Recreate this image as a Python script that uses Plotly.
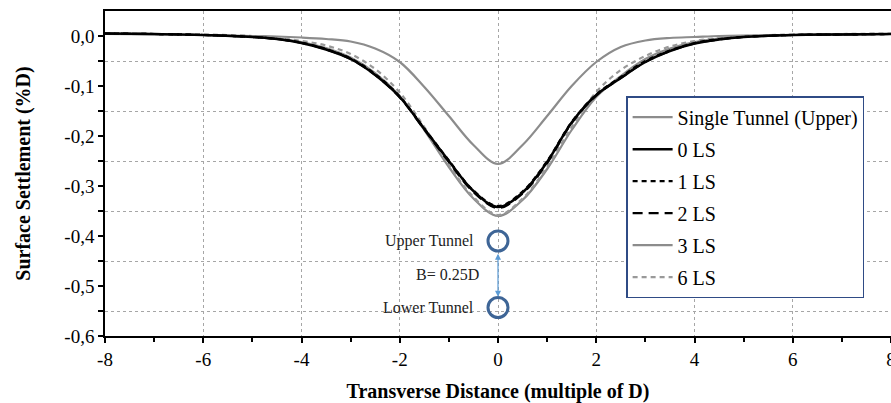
import plotly.graph_objects as go

# ---- data ----
x_pos = [-8, -7, -6, -5, -4.5, -4, -3.5, -3, -2.5, -2, -1.5, -1, -0.5, 0,
         0.5, 1, 1.5, 2, 2.5, 3, 3.5, 4, 4.5, 5, 6, 7, 8]

single_upper = [0.004, 0.003, 0.002, 0.000, -0.001, -0.003, -0.006, -0.011, -0.025, -0.052, -0.102, -0.160, -0.218, -0.256,
                -0.218, -0.160, -0.100, -0.052, -0.022, -0.009, -0.004, -0.002, 0.000, 0.001, 0.002, 0.003, 0.004]
ls0 = [0.005, 0.004, 0.002, -0.002, -0.006, -0.014, -0.027, -0.046, -0.078, -0.122, -0.186, -0.250, -0.310, -0.342,
       -0.313, -0.252, -0.173, -0.118, -0.084, -0.052, -0.030, -0.015, -0.007, -0.002, 0.002, 0.003, 0.004]
ls1 = [0.005, 0.004, 0.002, -0.002, -0.006, -0.013, -0.026, -0.045, -0.076, -0.121, -0.185, -0.249, -0.309, -0.340,
       -0.311, -0.250, -0.172, -0.117, -0.082, -0.050, -0.029, -0.014, -0.006, -0.002, 0.002, 0.003, 0.004]
ls2 = [0.005, 0.004, 0.002, -0.002, -0.006, -0.014, -0.027, -0.046, -0.078, -0.123, -0.187, -0.252, -0.312, -0.344,
       -0.315, -0.254, -0.174, -0.119, -0.084, -0.052, -0.030, -0.015, -0.007, -0.002, 0.002, 0.003, 0.004]
ls3 = [0.005, 0.004, 0.002, -0.002, -0.005, -0.012, -0.024, -0.043, -0.074, -0.120, -0.188, -0.262, -0.325, -0.360,
       -0.328, -0.266, -0.188, -0.122, -0.080, -0.046, -0.025, -0.012, -0.005, -0.001, 0.002, 0.003, 0.004]
ls6 = [0.005, 0.004, 0.003, 0.000, -0.004, -0.010, -0.019, -0.036, -0.066, -0.113, -0.182, -0.258, -0.322, -0.358,
       -0.325, -0.262, -0.182, -0.112, -0.068, -0.040, -0.021, -0.010, -0.004, 0.000, 0.003, 0.004, 0.005]

series_names = ["Single Tunnel (Upper)", "0 LS", "1 LS", "2 LS", "3 LS", "6 LS"]

tunnel_x = [0, 0]
tunnel_y = [-0.410, -0.543]
tunnel_labels = ["Upper Tunnel", "Lower Tunnel"]
spacing_label = "B= 0.25D"

x_tickvals = [-8, -6, -4, -2, 0, 2, 4, 6, 8]
x_ticktext = ["-8", "-6", "-4", "-2", "0", "2", "4", "6", "8"]
y_tickvals = [0.0, -0.1, -0.2, -0.3, -0.4, -0.5, -0.6]
y_ticktext = ["0,0", "-0,1", "-0,2", "-0,3", "-0,4", "-0,5", "-0,6"]
y_minorvals = [-0.05, -0.15, -0.25, -0.35, -0.45, -0.55]

FONT = "Liberation Serif"
GRAY = "#8c8c8c"
BLUE = "#3e6596"
TICKFONT = dict(family=FONT, size=19, color="#000000")

fig = go.Figure()

styles = {
    "Single Tunnel (Upper)": dict(color=GRAY, width=2.2, dash="solid"),
    "0 LS": dict(color="#000000", width=2.5, dash="solid"),
    "1 LS": dict(color="#000000", width=2.2, dash="5px,4px"),
    "2 LS": dict(color="#000000", width=2.2, dash="10px,6px"),
    "3 LS": dict(color=GRAY, width=2.2, dash="solid"),
    "6 LS": dict(color="#999999", width=2.2, dash="5px,4px"),
}
data_map = {"Single Tunnel (Upper)": single_upper, "0 LS": ls0, "1 LS": ls1,
            "2 LS": ls2, "3 LS": ls3, "6 LS": ls6}
draw_order = ["Single Tunnel (Upper)", "3 LS", "6 LS", "0 LS", "1 LS", "2 LS"]

for name in draw_order:
    fig.add_trace(go.Scatter(
        x=x_pos, y=data_map[name], name=name, mode="lines",
        line=dict(shape="spline", smoothing=1.0, **styles[name]),
        legendrank=series_names.index(name) + 1,
        legendgroup=name,
    ))

fig.add_trace(go.Scatter(
    x=tunnel_x, y=tunnel_y, mode="markers", showlegend=False,
    marker=dict(symbol="circle-open", size=20, color=BLUE, line=dict(width=3, color=BLUE)),
))

for lab, yy in zip(tunnel_labels, tunnel_y):
    fig.add_annotation(x=-0.45, y=yy, text=lab, showarrow=False, xanchor="right",
                       yanchor="middle", font=dict(family=FONT, size=16, color="#222222"))
fig.add_annotation(x=-0.35, y=-0.476, text=spacing_label, showarrow=False, xanchor="right",
                   yanchor="middle", font=dict(family=FONT, size=16, color="#222222"))
fig.add_annotation(x=0, y=-0.5215, ax=0, ay=-0.4325, xref="x", yref="y", axref="x", ayref="y",
                   text="", showarrow=True, arrowhead=2, arrowside="end+start",
                   arrowsize=1, arrowwidth=1.2, arrowcolor="#5b9bd5")

fig.update_layout(
    width=891, height=403,
    margin=dict(l=105, r=0, t=11, b=67),
    paper_bgcolor="white", plot_bgcolor="white",
    font=dict(family=FONT, size=19, color="#000000"),
    showlegend=True,
    legend=dict(
        x=0.663, y=0.738, xanchor="left", yanchor="top",
        bgcolor="white", bordercolor="#2f4b85", borderwidth=1.5,
        font=dict(family=FONT, size=20, color="#000000"),
        traceorder="grouped", tracegroupgap=3, itemwidth=40,
    ),
    xaxis=dict(
        range=[-8, 8], tickvals=x_tickvals, ticktext=x_ticktext, tickfont=TICKFONT,
        ticklabeloverflow="allow",
        showline=True, linecolor="#000000", linewidth=1.5, mirror=True,
        ticks="outside", ticklen=5, tickwidth=1.5, tickcolor="#000000",
        showgrid=True, gridcolor="#a6a6a6", griddash="dot", gridwidth=1,
        zeroline=False,
        minor=dict(dtick=1, ticks="outside", ticklen=4, tickwidth=1.5, tickcolor="#000000", showgrid=False),
        title=dict(text="<b>Transverse Distance (multiple of D)</b>", font=dict(family=FONT, size=20), standoff=16),
        automargin=False,
    ),
    yaxis=dict(
        range=[-0.6, 0.05], tickvals=y_tickvals, ticktext=y_ticktext, tickfont=TICKFONT,
        showline=True, linecolor="#000000", linewidth=1.5, mirror=False,
        ticks="outside", ticklen=5, tickwidth=1.5, tickcolor="#000000",
        showgrid=False, zeroline=False,
        minor=dict(tickvals=y_minorvals, ticks="outside", ticklen=5,
                   tickwidth=1.5, tickcolor="#000000",
                   showgrid=True, gridcolor="#a6a6a6", griddash="dot", gridwidth=1),
        title=dict(text="<b>Surface Settlement (%D)</b>", font=dict(family=FONT, size=20), standoff=28),
        automargin=False,
    ),
    xaxis2=dict(
        overlaying="x", matches="x", anchor="y", side="bottom",
        tickvals=x_tickvals, showticklabels=False, ticks="inside", ticklen=4, tickwidth=1.5,
        tickcolor="#000000", showgrid=False, zeroline=False, showline=False,
    ),
    yaxis2=dict(
        overlaying="y", matches="y", anchor="x", side="left",
        tickvals=y_tickvals, showticklabels=False, ticks="inside", ticklen=5, tickwidth=1.5,
        tickcolor="#000000", showgrid=False, zeroline=False, showline=False,
        minor=dict(tickvals=y_minorvals, ticks="inside", ticklen=5,
                   tickwidth=1.5, tickcolor="#000000"),
    ),
)

fig.write_html("out.html", config={"displayModeBar": False},
               post_script="document.body.style.margin='0';document.body.style.overflow='hidden';")
